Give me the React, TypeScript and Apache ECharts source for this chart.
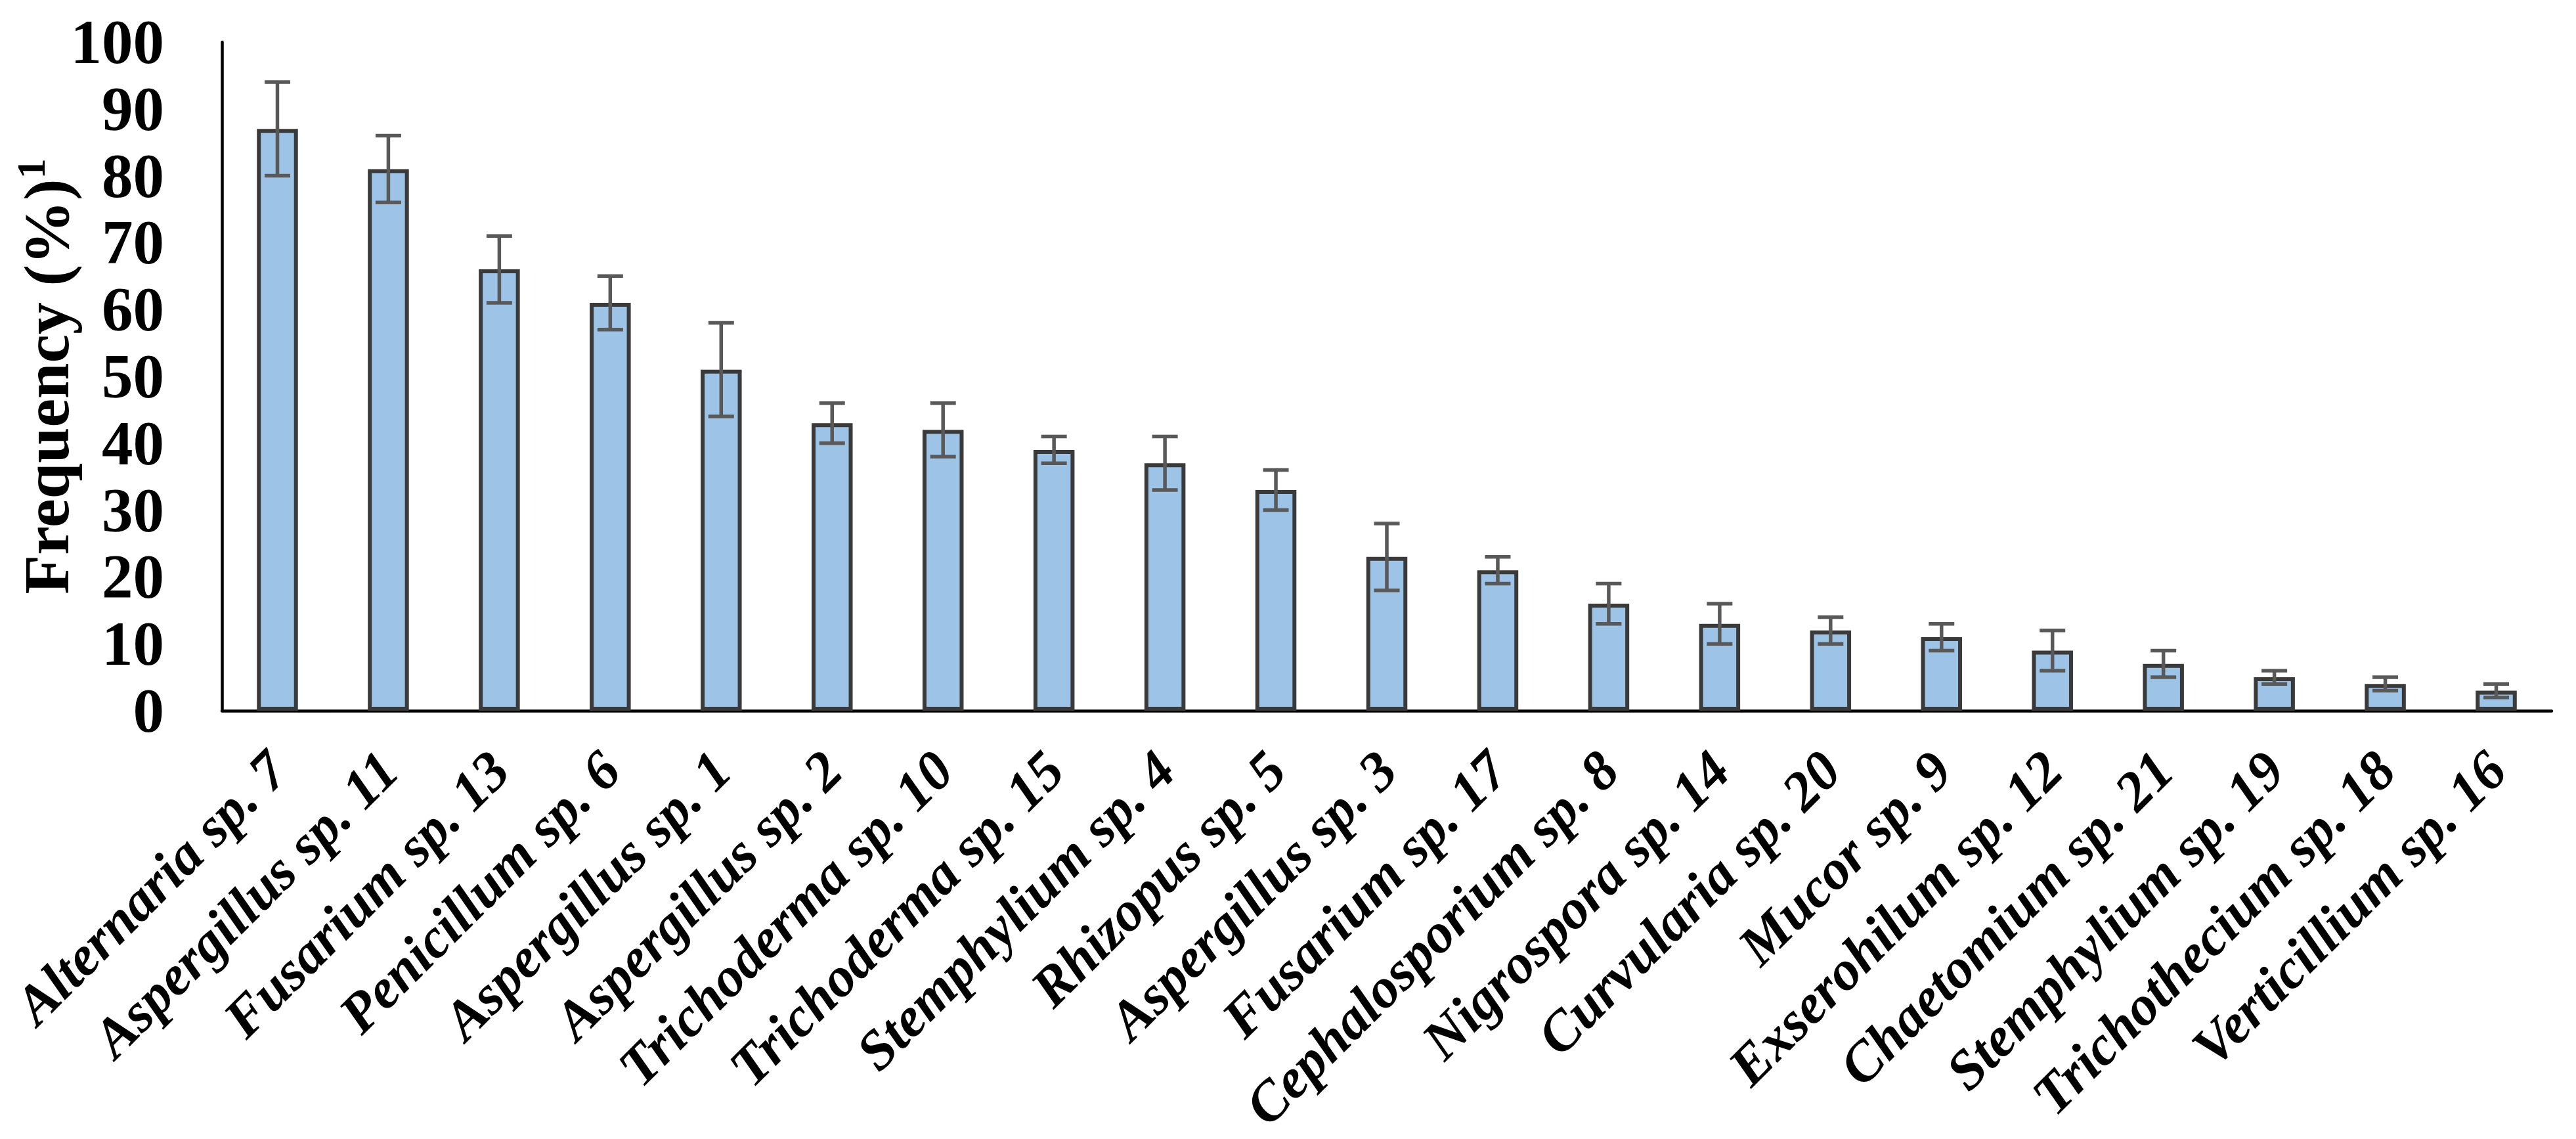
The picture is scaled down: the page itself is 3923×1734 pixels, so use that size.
import React, { useEffect, useRef } from "react";
import * as echarts from "echarts";

const categories = [
  "Alternaria sp. 7",
  "Aspergillus sp. 11",
  "Fusarium sp. 13",
  "Penicillum sp. 6",
  "Aspergillus sp. 1",
  "Aspergillus sp. 2",
  "Trichoderma sp. 10",
  "Trichoderma sp. 15",
  "Stemphylium sp. 4",
  "Rhizopus sp. 5",
  "Aspergillus sp. 3",
  "Fusarium sp. 17",
  "Cephalosporium sp. 8",
  "Nigrospora sp. 14",
  "Curvularia sp. 20",
  "Mucor sp. 9",
  "Exserohilum sp. 12",
  "Chaetomium sp. 21",
  "Stemphylium sp. 19",
  "Trichothecium sp. 18",
  "Verticillium sp. 16",
];

const frequency = [87, 81, 66, 61, 51, 43, 42, 39, 37, 33, 23, 21, 16, 13, 12, 11, 9, 7, 5, 4, 3];
const errors = [7, 5, 5, 4, 7, 3, 4, 2, 4, 3, 5, 2, 3, 3, 2, 2, 3, 2, 1, 1, 1];

const yMin = 0;
const yMax = 100;
const yInterval = 10;

const FONT = "'Liberation Serif', 'Times New Roman', serif";

export default function App() {
  const ref = useRef<HTMLDivElement>(null);

  useEffect(() => {
    document.body.style.margin = "0";
    document.body.style.overflow = "hidden";
    if (!ref.current) return;
    const chart = echarts.init(ref.current, undefined, { renderer: "svg" });

    const errData = frequency.map((v, i) => [i, v - errors[i], v + errors[i]]);

    chart.setOption({
      animation: false,
      backgroundColor: "#ffffff",
      grid: {
        left: 338,
        right: 37,
        top: 64,
        bottom: 652,
        containLabel: false,
        outerBoundsMode: "none",
      },
      xAxis: {
        type: "category",
        data: categories,
        axisLine: { show: true, lineStyle: { color: "#000000", width: 4.5 } },
        axisTick: { show: false },
        splitLine: { show: false },
        axisLabel: {
          interval: 0,
          rotate: 45,
          margin: 76,
          color: "#000000",
          fontFamily: FONT,
          fontStyle: "italic",
          fontWeight: "bold",
          fontSize: 85,
        },
      },
      yAxis: {
        type: "value",
        min: yMin,
        max: yMax,
        interval: yInterval,
        name: "{a|Frequency (%)}{b|1}",
        nameLocation: "middle",
        nameRotate: 90,
        nameGap: 212,
        nameMoveOverlap: false,
        nameTextStyle: {
          fontFamily: FONT,
          fontWeight: "bold",
          fontSize: 98,
          color: "#000000",
          rich: {
            a: {
              fontFamily: FONT,
              fontWeight: "bold",
              fontSize: 98,
              color: "#000000",
              lineHeight: 110,
            },
            b: {
              fontFamily: FONT,
              fontWeight: "bold",
              fontSize: 62,
              color: "#000000",
              verticalAlign: "top",
              lineHeight: 110,
            },
          },
        },
        axisLine: { show: true, lineStyle: { color: "#000000", width: 4.5 } },
        axisTick: { show: false },
        splitLine: { show: false },
        axisLabel: {
          margin: 88,
          color: "#000000",
          fontFamily: FONT,
          fontWeight: "bold",
          fontSize: 95,
        },
      },
      series: [
        {
          type: "bar",
          data: frequency,
          barWidth: "37%",
          itemStyle: {
            color: "#9DC3E6",
            borderColor: "#3a3a3a",
            borderWidth: 6,
          },
          z: 2,
        },
        {
          type: "custom",
          data: errData,
          z: 3,
          renderItem: (params: any, api: any) => {
            const i = api.value(0);
            const lo = api.coord([i, api.value(1)]);
            const hi = api.coord([i, api.value(2)]);
            const half = 19.5;
            const style = { stroke: "#595959", lineWidth: 5.5 };
            return {
              type: "group",
              children: [
                { type: "line", shape: { x1: hi[0], y1: hi[1], x2: lo[0], y2: lo[1] }, style },
                { type: "line", shape: { x1: hi[0] - half, y1: hi[1], x2: hi[0] + half, y2: hi[1] }, style },
                { type: "line", shape: { x1: lo[0] - half, y1: lo[1], x2: lo[0] + half, y2: lo[1] }, style },
              ],
            };
          },
        },
      ],
    });

    return () => {
      chart.dispose();
    };
  }, []);

  return <div ref={ref} style={{ width: 3923, height: 1734 }} />;
}
